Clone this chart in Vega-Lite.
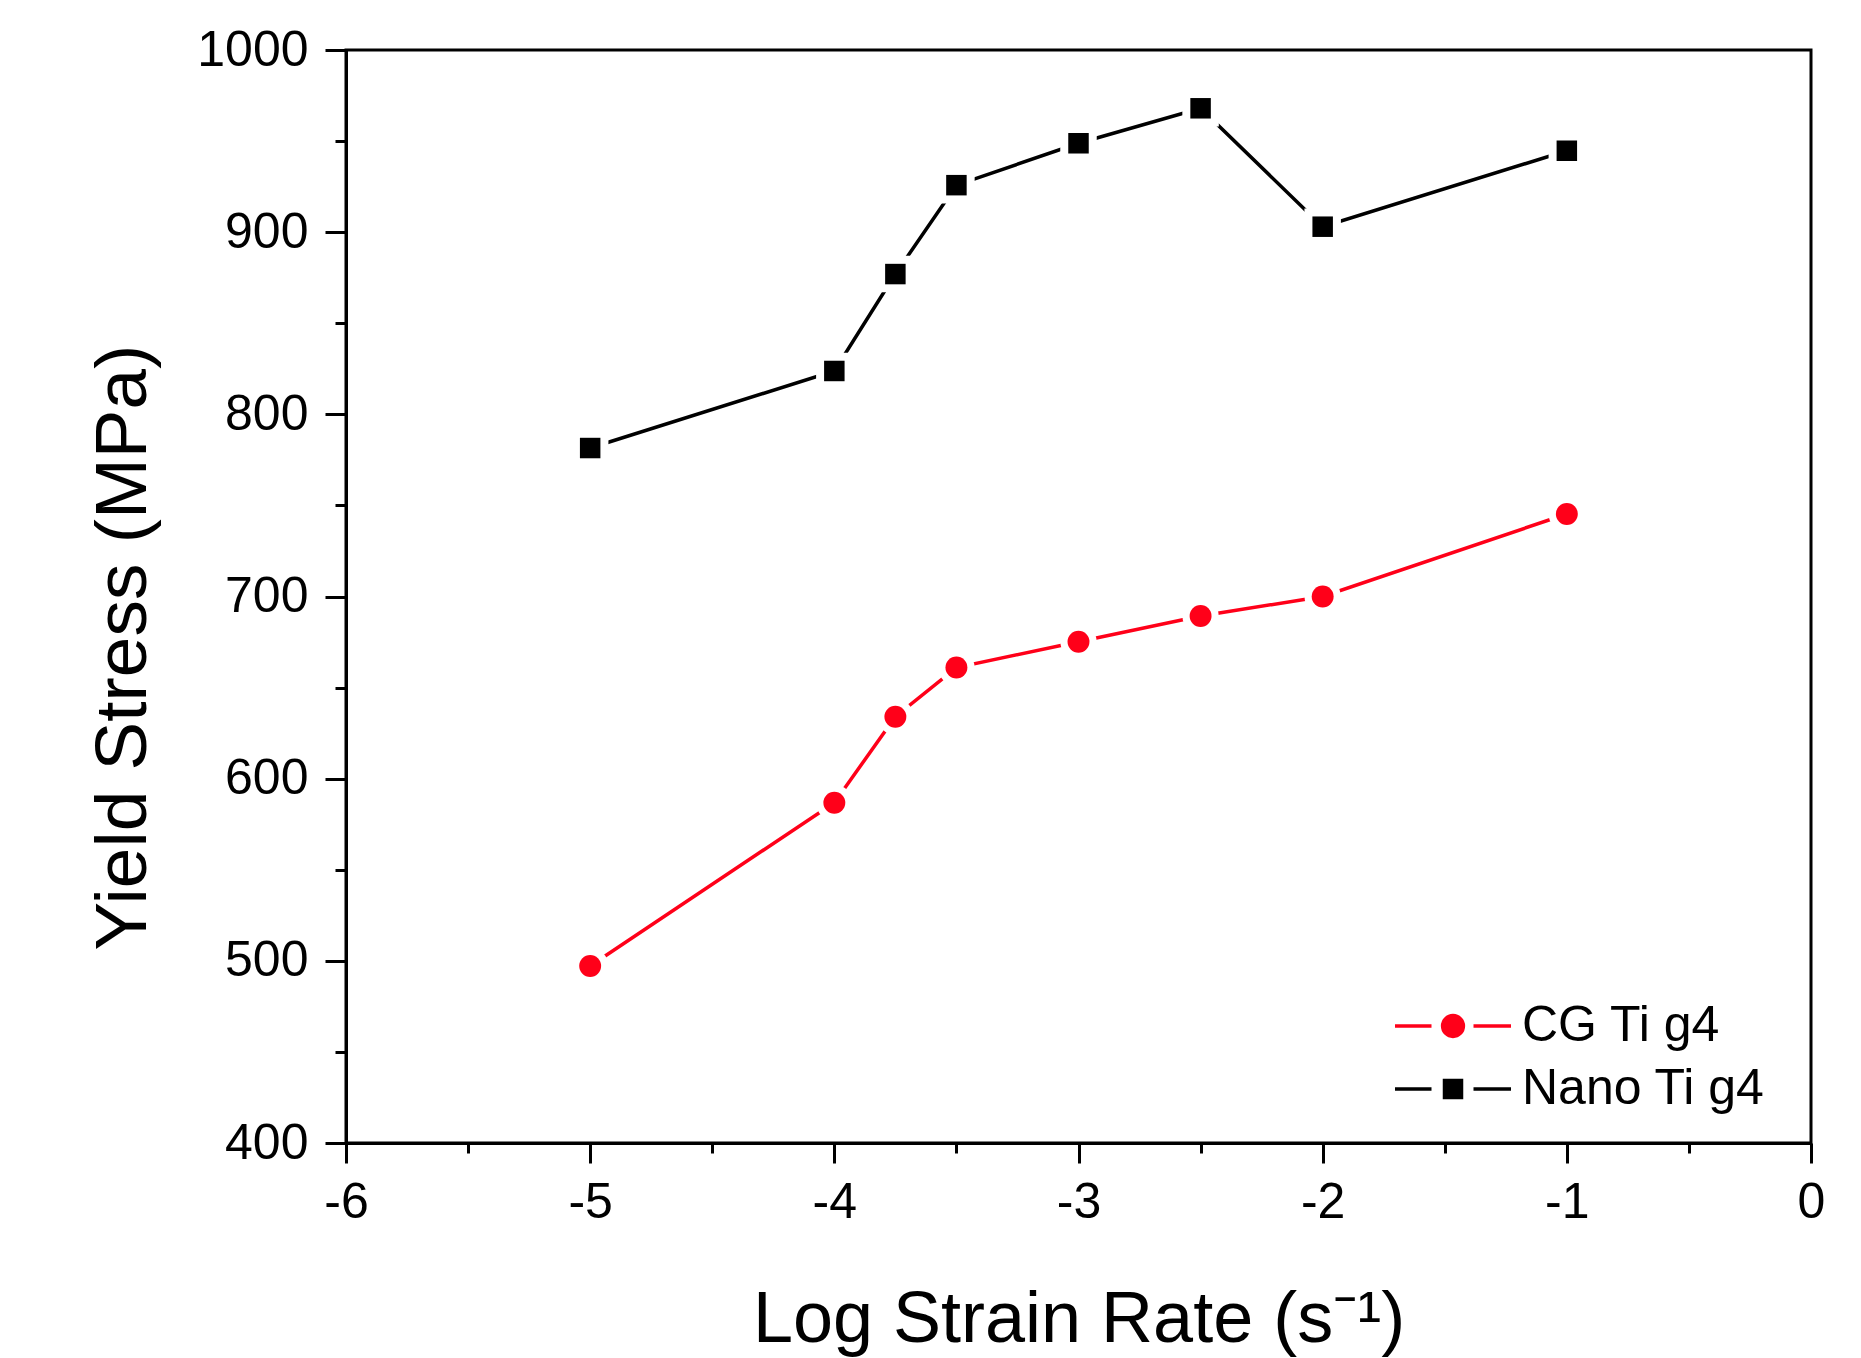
{
  "$schema": "https://vega.github.io/schema/vega-lite/v6.json",
  "width": 1465,
  "height": 1093,
  "autosize": "none",
  "padding": {"left": 346, "top": 50, "right": 50, "bottom": 215},
  "background": "white",
  "data": {
    "values": [
      {"rate": -5, "stress": 497.2, "series": "CG Ti g4"},
      {"rate": -4, "stress": 586.8, "series": "CG Ti g4"},
      {"rate": -3.75, "stress": 634, "series": "CG Ti g4"},
      {"rate": -3.5, "stress": 661, "series": "CG Ti g4"},
      {"rate": -3, "stress": 675.2, "series": "CG Ti g4"},
      {"rate": -2.5, "stress": 689.3, "series": "CG Ti g4"},
      {"rate": -2, "stress": 700, "series": "CG Ti g4"},
      {"rate": -1, "stress": 745.3, "series": "CG Ti g4"},
      {"rate": -5, "stress": 781.5, "series": "Nano Ti g4"},
      {"rate": -4, "stress": 823.8, "series": "Nano Ti g4"},
      {"rate": -3.75, "stress": 877, "series": "Nano Ti g4"},
      {"rate": -3.5, "stress": 925.8, "series": "Nano Ti g4"},
      {"rate": -3, "stress": 948.8, "series": "Nano Ti g4"},
      {"rate": -2.5, "stress": 968, "series": "Nano Ti g4"},
      {"rate": -2, "stress": 903, "series": "Nano Ti g4"},
      {"rate": -1, "stress": 944.7, "series": "Nano Ti g4"}
    ]
  },
  "encoding": {
    "x": {
      "field": "rate",
      "type": "quantitative",
      "scale": {"domain": [-6, 0], "nice": false, "zero": false},
      "axis": {
        "title": "Log Strain Rate (s⁻¹)",
        "values": [-6, -5.5, -5, -4.5, -4, -3.5, -3, -2.5, -2, -1.5, -1, -0.5, 0],
        "labelExpr": "datum.value % 1 === 0 ? '' + datum.value : ''",
        "tickSize": {"condition": {"test": "datum.value % 1 === 0", "value": 20}, "value": 10},
        "labelPadding": 14,
        "titlePadding": 57
      }
    },
    "y": {
      "field": "stress",
      "type": "quantitative",
      "scale": {"domain": [400, 1000], "nice": false, "zero": false},
      "axis": {
        "title": "Yield Stress (MPa)",
        "values": [400, 450, 500, 550, 600, 650, 700, 750, 800, 850, 900, 950, 1000],
        "labelExpr": "datum.value % 100 === 0 ? '' + datum.value : ''",
        "tickSize": {"condition": {"test": "datum.value % 100 === 0", "value": 21}, "value": 11},
        "labelPadding": 17,
        "titlePadding": 36,
        "titleY": 597,
        "titleFontSize": 73
      }
    }
  },
  "layer": [
    {
      "mark": {"type": "line", "strokeWidth": 3.5},
      "encoding": {
        "color": {
          "field": "series",
          "type": "nominal",
          "scale": {"domain": ["CG Ti g4", "Nano Ti g4"], "range": ["#ff0019", "#000000"]},
          "legend": {
            "title": null,
            "orient": "none",
            "legendX": 1082,
            "legendY": 951,
            "padding": 0,
            "symbolSize": 1600,
            "symbolStrokeWidth": 3.5,
            "labelOffset": 44,
            "labelFontSize": 50,
            "labelFont": "Liberation Sans",
            "labelColor": "black",
            "labelLimit": 600,
            "rowPadding": 13,
            "encode": {
              "symbols": {
                "update": {
                  "shape": {"signal": "datum.value === 'CG Ti g4' ? 'M-2.9,0H-1.075M1.025,0H2.9M0.52,0A0.52,0.52,0,1,1,-0.52,0A0.52,0.52,0,1,1,0.52,0Z' : 'M-2.9,0H-1.075M1.025,0H2.9M-0.425,-0.425H0.425V0.425H-0.425Z'"},
                  "fill": {"signal": "datum.value === 'CG Ti g4' ? '#ff0019' : '#000000'"},
                  "stroke": {"signal": "datum.value === 'CG Ti g4' ? '#ff0019' : '#000000'"},
                  "strokeWidth": {"value": 3.5},
                  "opacity": {"value": 1}
                }
              }
            }
          }
        }
      }
    },
    {
      "transform": [{"filter": "datum.series === 'CG Ti g4'"}],
      "mark": {"type": "point", "shape": "circle", "filled": true, "opacity": 1, "color": "white", "size": 1320}
    },
    {
      "transform": [{"filter": "datum.series === 'Nano Ti g4'"}],
      "mark": {"type": "point", "shape": "square", "filled": true, "opacity": 1, "color": "white", "size": 1330}
    },
    {
      "transform": [{"filter": "datum.series === 'CG Ti g4'"}],
      "mark": {"type": "point", "shape": "circle", "filled": true, "opacity": 1, "color": "#ff0019", "size": 480}
    },
    {
      "transform": [{"filter": "datum.series === 'Nano Ti g4'"}],
      "mark": {"type": "point", "shape": "square", "filled": true, "opacity": 1, "color": "#000000", "size": 420}
    }
  ],
  "config": {
    "font": "Liberation Sans",
    "view": {"stroke": "black", "strokeWidth": 3},
    "axis": {
      "grid": false,
      "domainColor": "black",
      "domainWidth": 3,
      "tickColor": "black",
      "tickWidth": 3,
      "labelFont": "Liberation Sans",
      "labelFontSize": 50,
      "labelColor": "black",
      "labelFlush": false,
      "labelOverlap": false,
      "titleFont": "Liberation Sans",
      "titleFontSize": 72,
      "titleFontWeight": "normal",
      "titleColor": "black"
    }
  }
}
